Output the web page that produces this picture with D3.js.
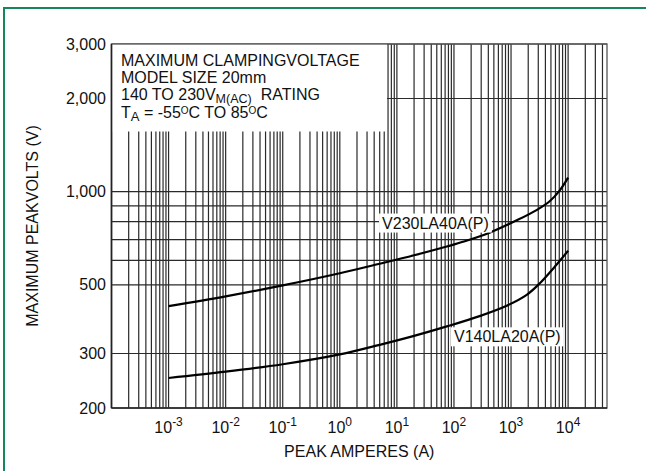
<!DOCTYPE html>
<html><head><meta charset="utf-8">
<script src="https://cdn.jsdelivr.net/npm/d3@7"></script>
<style>
html,body{margin:0;padding:0;background:#fff;}
svg{display:block;font-family:"Liberation Sans",Arial,Helvetica,sans-serif;}
</style></head>
<body>
<svg id="chart" width="646" height="471"></svg>
<script>
// ---- data ----
const xTickValues = [1e-3, 1e-2, 1e-1, 1e0, 1e1, 1e2, 1e3, 1e4];
const xTickExponents = ["-3", "-2", "-1", "0", "1", "2", "3", "4"];
const yTickValues = [200, 300, 500, 1000, 2000, 3000];
const yTickLabels = ["200", "300", "500", "1,000", "2,000", "3,000"];
const yGridValues = [300, 500, 600, 700, 800, 900, 1000, 2000, 3000];

const v230Amps  = [1e-3, 1e-2, 0.1, 1, 5, 20, 75, 150, 430, 1260, 2800, 4800, 7200, 1e4];
const v230Volts = [427, 459, 498, 545, 585, 623, 665, 690, 738, 808, 872, 933, 1012, 1110];
const v140Amps  = [1e-3, 1e-2, 0.1, 1, 5, 20, 75, 290, 840, 1880, 3200, 5500, 1e4];
const v140Volts = [250, 262, 277, 298, 320, 342, 367, 397, 428, 464, 506, 565, 644];

const titleLines = ["MAXIMUM CLAMPINGVOLTAGE", "MODEL SIZE 20mm"];
const xLabel = "PEAK AMPERES (A)";
const yLabel = "MAXIMUM PEAKVOLTS (V)";
const seriesLabels = ["V230LA40A(P)", "V140LA20A(P)"];

// ---- layout ----
const svg = d3.select("#chart");
const L = 111.5, R = 607, T = 44, B = 408;
const x = d3.scaleLog().domain([1e-4, 4.8e4]).range([L, R]);
const y = d3.scaleLog().domain([200, 3000]).range([B, T]);
const gridColor = "#2a2a2a";

// green outer frame
svg.append("rect").attr("x", 4).attr("y", 8).attr("width", 700).attr("height", 500)
  .attr("fill", "none").attr("stroke", "#15875a").attr("stroke-width", 2);

// vertical grid
svg.append("g").selectAll("line").data(x.ticks()).join("line")
  .attr("x1", d => x(d)).attr("x2", d => x(d))
  .attr("y1", T).attr("y2", B)
  .attr("stroke", gridColor).attr("stroke-width", 1.2);

// horizontal grid
svg.append("g").selectAll("line").data(yGridValues).join("line")
  .attr("x1", L).attr("x2", R)
  .attr("y1", d => y(d)).attr("y2", d => y(d))
  .attr("stroke", gridColor).attr("stroke-width", 1.2);

// curves
const line = d3.line().x(d => x(d[0])).y(d => y(d[1])).curve(d3.curveCatmullRom.alpha(0.5));
const s230 = d3.zip(v230Amps, v230Volts);
const s140 = d3.zip(v140Amps, v140Volts);
[s230, s140].forEach(s => {
  svg.append("path").datum(s).attr("d", line)
    .attr("fill", "none").attr("stroke", "#000").attr("stroke-width", 2.2);
});

// title box
svg.append("rect").attr("x", L).attr("y", T).attr("width", 387 - L).attr("height", 131.5 - T)
  .attr("fill", "#fff");

// frame
svg.append("rect").attr("x", L).attr("y", T).attr("width", R - L).attr("height", B - T)
  .attr("fill", "none").attr("stroke", "#555").attr("stroke-width", 1.3);
svg.append("line").attr("x1", L).attr("x2", L).attr("y1", T).attr("y2", B)
  .attr("stroke", "#222").attr("stroke-width", 1.5);
svg.append("line").attr("x1", L).attr("x2", R).attr("y1", B).attr("y2", B)
  .attr("stroke", "#222").attr("stroke-width", 1.5);

// title text
const tg = svg.append("g").attr("font-size", 16).attr("fill", "#111");
tg.append("text").attr("x", 121).attr("y", 66).text(titleLines[0]);
tg.append("text").attr("x", 121).attr("y", 83).text(titleLines[1]);
const t3 = tg.append("text").attr("x", 121).attr("y", 100);
t3.append("tspan").text("140 TO 230V");
t3.append("tspan").attr("dy", 2.5).attr("font-size", 12.5).text("M(AC)");
t3.append("tspan").attr("dy", -2.5).attr("dx", 9).text("RATING");
const t4 = tg.append("text").attr("x", 121).attr("y", 118);
t4.append("tspan").text("T");
t4.append("tspan").attr("dy", 3).attr("font-size", 13).text("A");
t4.append("tspan").attr("dy", -3).text(" = -55");
t4.append("tspan").attr("dy", -4.5).attr("font-size", 10).text("O");
t4.append("tspan").attr("dy", 4.5).text("C TO 85");
t4.append("tspan").attr("dy", -4.5).attr("font-size", 10).text("O");
t4.append("tspan").attr("dy", 4.5).text("C");

// series labels with white backgrounds
function seriesLabel(txt, xv, yv) {
  const g = svg.append("g");
  const t = g.append("text").attr("x", x(xv)).attr("y", y(yv))
    .attr("font-size", 16).attr("fill", "#111").text(txt);
  const bb = t.node().getBBox();
  g.insert("rect", "text").attr("x", bb.x - 3).attr("y", bb.y - 1)
    .attr("width", bb.width + 6).attr("height", bb.height + 2).attr("fill", "#fff");
}
seriesLabel(seriesLabels[0], 5.5, 760);
seriesLabel(seriesLabels[1], 100, 326);

// y tick labels
svg.append("g").selectAll("text").data(yTickValues).join("text")
  .attr("x", 106).attr("y", d => y(d) + 5.5)
  .attr("text-anchor", "end").attr("font-size", 16).attr("fill", "#111")
  .text((d, i) => yTickLabels[i]);

// x tick labels
const xt = svg.append("g").selectAll("text").data(xTickValues).join("text")
  .attr("x", d => x(d)).attr("y", 433)
  .attr("text-anchor", "middle").attr("font-size", 16).attr("fill", "#111");
xt.append("tspan").text("10");
xt.append("tspan").attr("dy", -7).attr("font-size", 12).text((d, i) => xTickExponents[i]);

// axis titles
svg.append("text").attr("x", (L + R) / 2).attr("y", 457)
  .attr("text-anchor", "middle").attr("font-size", 16).attr("fill", "#111").text(xLabel);
svg.append("text").attr("transform", `translate(38,${(T + B) / 2}) rotate(-90)`)
  .attr("text-anchor", "middle").attr("font-size", 16).attr("fill", "#111").text(yLabel);
</script>
</body></html>
